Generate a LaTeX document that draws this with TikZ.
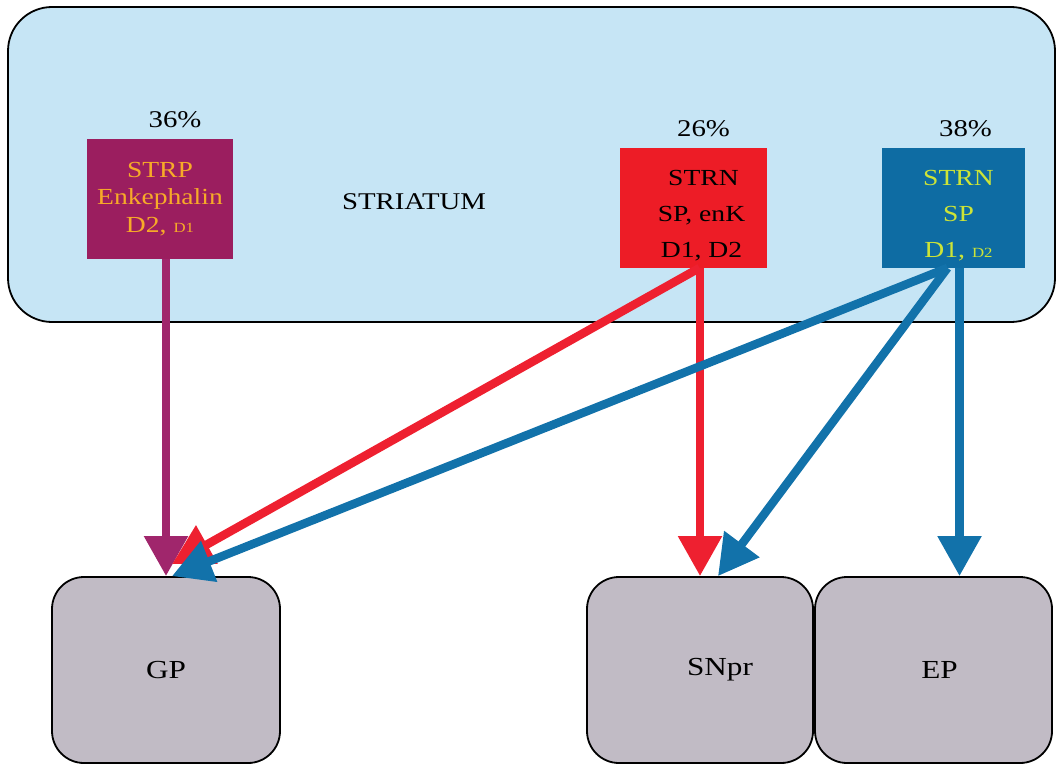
\documentclass[tikz,border=0pt]{standalone}
\usepackage{fontspec}
\setmainfont[FakeStretch=1.2]{Liberation Serif}
\usetikzlibrary{positioning,arrows.meta}
\definecolor{striatumblue}{RGB}{198,229,245}
\definecolor{strpfill}{RGB}{155,30,95}
\definecolor{strptext}{RGB}{247,170,40}
\definecolor{strnred}{RGB}{237,28,38}
\definecolor{strnblue}{RGB}{14,108,163}
\definecolor{strntext}{RGB}{205,228,55}
\definecolor{targetgray}{RGB}{193,187,197}
\definecolor{projpurple}{RGB}{160,38,108}
\definecolor{projred}{RGB}{238,32,48}
\definecolor{projblue}{RGB}{18,114,170}

\begin{document}
\begin{tikzpicture}[
    x=0.5pt, y=-0.5pt,
    region/.style={rectangle, rounded corners=22pt, draw=black, line width=0.9pt, fill=striatumblue, minimum width=523.5pt, minimum height=157.5pt},
    cellbox/.style={rectangle, align=center, inner sep=0pt, minimum width=73pt, minimum height=60pt},
    target/.style={rectangle, rounded corners=16pt, draw=black, line width=0.9pt, fill=targetgray, minimum height=93pt, font=\fontsize{13}{15}\selectfont},
    pct/.style={inner sep=0pt, font=\fontsize{12}{14}\selectfont},
    proj/.style={-{Triangle[length=20pt,width=21pt]}, line width=4.25pt}
]
\useasboundingbox (0,0) rectangle (1058,765);

% Striatum
\node[region] (striatum) at (531.5,164.5) {};
\node[font=\fontsize{12}{14}\selectfont] (striatumlabel) at (414,202) {STRIATUM};

% Cell populations
\node[cellbox, fill=strpfill, text=strptext, font=\fontsize{11.5}{13.8}\selectfont] (strp) at (160,199)
    {STRP\\Enkephalin\\D2, {\fontsize{7}{8}\selectfont D1}};
\node[pct, above=5pt of strp, xshift=7.5pt] (strppct) {36\%};

\node[cellbox, minimum width=73.5pt, fill=strnred, text=black, font=\fontsize{11.5}{18}\selectfont] (strnr) at (693.5,207.5)
    {\rule{0pt}{16pt}\hspace*{10pt}STRN\\\hspace*{8pt}SP, enK\\\hspace*{8pt}D1, D2};
\node[pct, above=5pt of strnr, xshift=5pt] (strnrpct) {26\%};

\node[cellbox, minimum width=71.5pt, fill=strnblue, text=strntext, font=\fontsize{11.5}{18}\selectfont] (strnb) at (953.5,207.5)
    {\rule{0pt}{16pt}\hspace*{5pt}STRN\\\hspace*{5pt}SP\\\hspace*{5pt}D1, {\fontsize{7}{8}\selectfont D2}};
\node[pct, above=5pt of strnb, xshift=6pt] (strnbpct) {38\%};

% Output nuclei
\node[target, minimum width=114pt] (gp) at (166,670) {GP};
\node[target, minimum width=113pt] (snpr) at (700,670) {\hspace*{20pt}SNpr};
\node[target, minimum width=118.5pt] (ep) at (933.5,670) {\hspace*{6pt}EP};

% Projections
\draw[proj, projpurple] (strp.south -| gp.north) -- (gp.north);
\draw[proj, projred] (strnr.south -| snpr.north) -- (snpr.north);
\draw[proj, projred] ([xshift=3pt]strnr.south) -- ([xshift=3pt, yshift=6pt]gp.north);
\draw[proj, projblue] ([xshift=-3pt]strnb.south) -- ([xshift=3pt]gp.north);
\draw[proj, projblue] ([xshift=-3pt]strnb.south) -- ([xshift=9pt]snpr.north);
\draw[proj, projblue] ([xshift=3pt]strnb.south) -- ([xshift=3pt]strnb.south |- ep.north);

\end{tikzpicture}
\end{document}
